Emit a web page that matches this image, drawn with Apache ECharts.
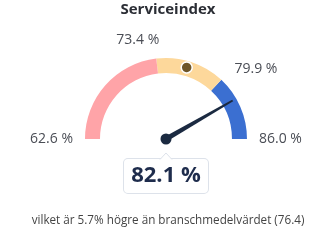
<!DOCTYPE html>
<html><head><meta charset="utf-8">
<script src="https://cdn.jsdelivr.net/npm/echarts@6/dist/echarts.min.js"></script>
<style>html,body{margin:0;padding:0;background:#fff}#c{width:336px;height:246px}</style>
</head><body><div id="c"></div>
<script>
const titleText = 'Serviceindex';
const subText = 'vilket är 5.7% högre än branschmedelvärdet (76.4)';
const scaleMin = 62.6;
const scaleMax = 86.0;
const bandBreaks = [73.4, 79.9, 86.0];
const bandColors = ['#ffa4a8', '#fdd89b', '#3b6fd1'];
const tickValues = [62.6, 73.4, 79.9, 86.0];
const currentValue = 82.1;
const industryAvg = 76.4;

const FONT = 'Open Sans';
const chart = echarts.init(document.getElementById('c'));
const stops = bandBreaks.map((b, i) => [(b - scaleMin) / (scaleMax - scaleMin), bandColors[i]]);
const center = ['49.4%', 139];
const R = 81;
const labelStyle = {fontFamily: FONT, fontSize: 14, color: '#4a4d55'};
chart.setOption({
  animation: false,
  title: [
    {text: titleText, left: 'center', top: -3, textStyle: {fontFamily: FONT, fontSize: 15, fontWeight: 'bold', color: '#2b2e35'}},
    {text: subText, left: 'center', top: 210, textStyle: {fontFamily: FONT, fontSize: 11.7, fontWeight: 'normal', color: '#444'}}
  ],
  polar: {center: center, radius: [0, R]},
  angleAxis: {
    type: 'value', min: scaleMin, max: scaleMax, startAngle: 180, endAngle: 0,
    axisLine: {show: false}, axisTick: {show: false}, splitLine: {show: false},
    axisLabel: {
      customValues: tickValues, margin: 12,
      formatter: v => {
        const i = tickValues.findIndex(t => Math.abs(t - v) < 1e-6);
        return '{t' + i + '|' + v.toFixed(1) + ' %}';
      },
      rich: {
        t0: Object.assign({}, labelStyle),
        t1: Object.assign({padding: [0, 34, 0, 0]}, labelStyle),
        t2: Object.assign({padding: [0, 0, -5, 5]}, labelStyle),
        t3: Object.assign({}, labelStyle)
      }
    }
  },
  radiusAxis: {show: false, min: 0, max: 1},
  series: [
    {
      type: 'gauge', center: center, radius: R, min: scaleMin, max: scaleMax, startAngle: 180, endAngle: 0,
      axisLine: {lineStyle: {width: 15, color: stops}},
      splitLine: {show: false}, axisTick: {show: false}, axisLabel: {show: false},
      pointer: {icon: 'path://M0,100 L4,100 L2.8,0 L1.2,0 Z', length: 77, width: 5, itemStyle: {color: '#1b2a41'}},
      anchor: {show: true, size: 11, showAbove: true, itemStyle: {color: '#1b2a41'}},
      title: {show: false},
      detail: {
        offsetCenter: [0, 37], width: 84, height: 34, lineHeight: 34, padding: 0,
        backgroundColor: '#fff', borderColor: '#dde2ea', borderWidth: 1, borderRadius: 4,
        fontFamily: FONT, fontSize: 22, fontWeight: 'bold', color: '#1e2c4c',
        formatter: v => v.toFixed(1) + ' %'
      },
      data: [{value: currentValue}]
    },
    {
      type: 'gauge', center: center, radius: R, min: scaleMin, max: scaleMax, startAngle: 180, endAngle: 0,
      axisLine: {show: false}, splitLine: {show: false}, axisTick: {show: false}, axisLabel: {show: false},
      pointer: {icon: 'circle', length: 11, width: 11, offsetCenter: [0, -69], itemStyle: {color: '#6e5527', borderColor: '#fff', borderWidth: 1.5}},
      anchor: {show: false}, title: {show: false}, detail: {show: false},
      data: [{value: industryAvg}]
    },
    {
      type: 'gauge', center: center, radius: R, min: scaleMin, max: scaleMax, startAngle: 180, endAngle: 0,
      axisLine: {show: false}, splitLine: {show: false}, axisTick: {show: false}, axisLabel: {show: false},
      pointer: {icon: 'path://M0,10 L6,0 L12,10', length: 6.5, width: 12, offsetCenter: [0, 20.5], itemStyle: {color: '#fff', borderColor: '#dde2ea', borderWidth: 1}},
      anchor: {show: false}, title: {show: false}, detail: {show: false}, silent: true,
      data: [{value: (scaleMin + scaleMax) / 2}]
    }
  ]
});
</script></body></html>
